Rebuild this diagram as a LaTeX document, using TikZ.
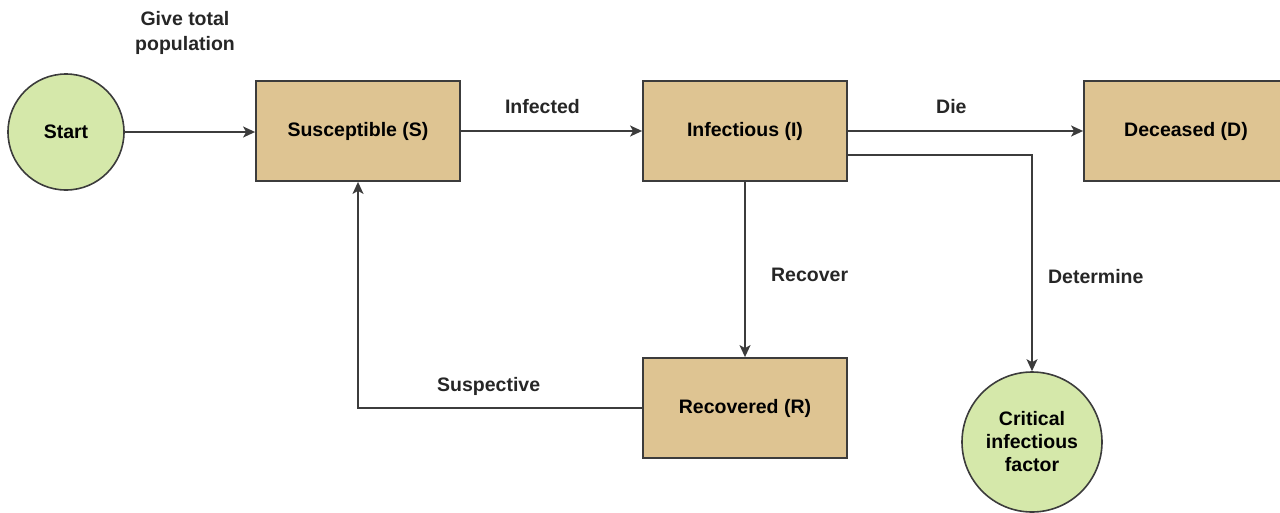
\documentclass[tikz,border=0pt]{standalone}
\usepackage{fontspec}
\setmainfont{Liberation Sans}
\usetikzlibrary{arrows.meta}
\definecolor{boxtan}{RGB}{222,196,146}
\definecolor{circgreen}{RGB}{213,232,170}
\definecolor{linegray}{RGB}{60,60,60}
\tikzset{
  stage/.style={draw=linegray, line width=1.8pt, fill=boxtan, minimum width=204pt, minimum height=100pt, inner sep=0pt, font=\bfseries\fontsize{19.5}{23}\selectfont},
  terminal/.style={circle, draw=linegray, line width=1.6pt, fill=circgreen, inner sep=0pt, font=\bfseries\fontsize{19.5}{23}\selectfont, align=center},
  flow/.style={draw=linegray, line width=1.6pt, -{Stealth[length=12pt,width=11pt,inset=3pt]}},
  lbl/.style={font=\bfseries\fontsize{19.5}{25}\selectfont, align=center, text=black!85}
}
\begin{document}
\begin{tikzpicture}[x=1pt,y=-1pt]
\useasboundingbox (0,0) rectangle (1280,512);
\begin{scope}
\clip (0,0) rectangle (1280,512);
\node[terminal, minimum size=116pt] (start) at (66,132) {Start};
\node[stage] (S) at (358,131) {Susceptible (S)};
\node[stage] (I) at (745,131) {Infectious (I)};
\node[stage] (D) at (1186,131) {Deceased (D)};
\node[stage] (R) at (745,408) {Recovered (R)};
\node[terminal, minimum size=140pt] (C) at (1032,442) {Critical\\infectious\\factor};

\coordinate (iout) at (848,155);
\coordinate (bend1) at (1032,155);
\coordinate (bend2) at (358,408);

\draw[flow] (start.east) -- (start.east -| S.west);
\draw[flow] (S.east) -- node[lbl, pos=0.45, above=13pt] {Infected} (I.west);
\draw[flow] (I.east) -- node[lbl, pos=0.44, above=13pt] {Die} (D.west);
\draw[flow] (iout) -- (bend1) -- node[lbl, pos=0.56, right=12pt] {Determine} (C.north);
\draw[flow] (I.south) -- node[lbl, pos=0.53, right=22pt] {Recover} (R.north);
\draw[flow] (R.west) -- node[lbl, pos=0.54, above=8pt] {Suspective} (bend2) -- (S.south);

\node[lbl] (give) at (185,33) {Give total\\population};
\end{scope}
\end{tikzpicture}
\end{document}
